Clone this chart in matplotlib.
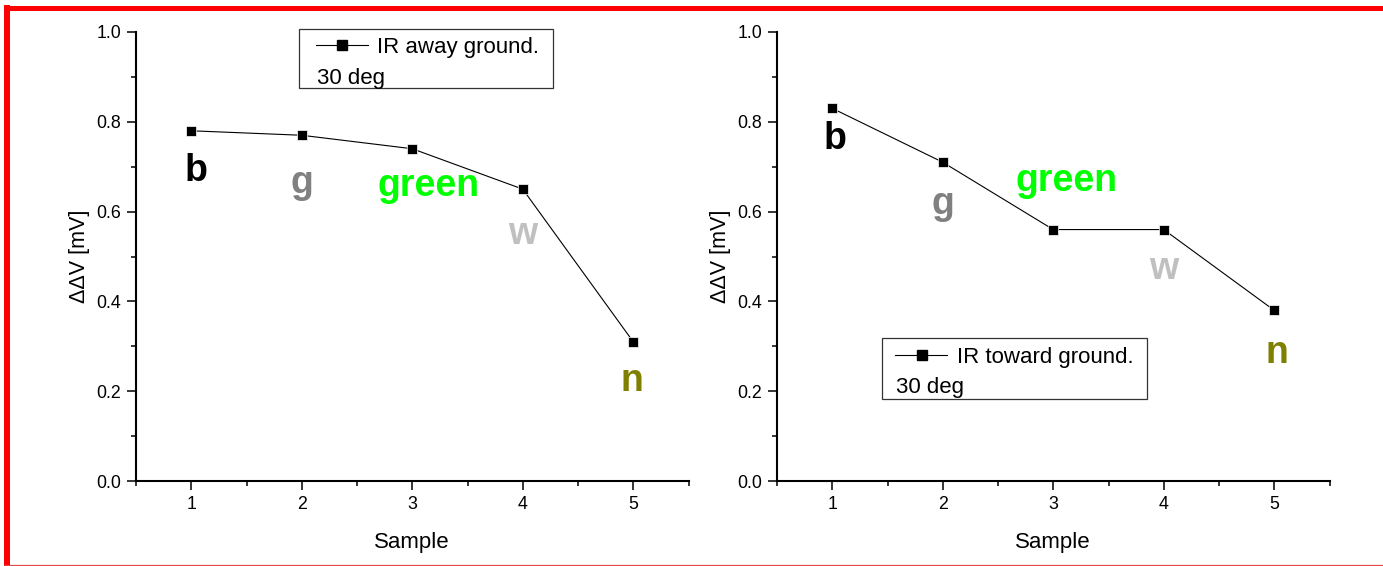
import matplotlib
matplotlib.use("Agg")
import matplotlib.pyplot as plt
from matplotlib.lines import Line2D
from matplotlib.patches import Rectangle

plt.rcParams['font.family'] = ['Liberation Sans', 'DejaVu Sans']

# ---- data ----
samples = [1, 2, 3, 4, 5]
away_values = [0.78, 0.77, 0.74, 0.65, 0.31]
toward_values = [0.83, 0.71, 0.56, 0.56, 0.38]
sample_names = ['b', 'g', 'green', 'w', 'n']
name_colors = ['#000000', '#808080', '#00ff00', '#c0c0c0', '#808000']
away_legend = ['IR away ground.', '30 deg']
toward_legend = ['IR toward ground.', '30 deg']
x_label = 'Sample'
y_label = 'ΔΔV [mV]'

# label offsets from each marker, in pixels (right, down)
away_offsets = [(5, 50), (0, 58), (16, 47), (0, 55), (-1, 49)]
toward_offsets = [(3, 41), (0, 52), (13, -39), (0, 49), (3, 53)]

W, H = 1383, 566
DPI = 100
fig = plt.figure(figsize=(W / DPI, H / DPI), dpi=DPI)
PT = 72 / DPI  # points per pixel


def make_axes(left_px):
    x0 = left_px / W
    width = 552.5 / W
    y0 = 1 - 481 / H
    height = 449 / H
    return fig.add_axes([x0, y0, width, height])


def style_axes(ax):
    for side in ('top', 'right'):
        ax.spines[side].set_visible(False)
    for side in ('left', 'bottom'):
        ax.spines[side].set_linewidth(1.5)
    ax.set_xlim(0.5, 5.5)
    ax.set_ylim(0.0, 1.0)
    ax.set_xticks(samples)
    ax.set_xticks([0.5, 1.5, 2.5, 3.5, 4.5, 5.5], minor=True)
    ax.set_yticks([0.0, 0.2, 0.4, 0.6, 0.8, 1.0])
    ax.set_yticks([0.1, 0.3, 0.5, 0.7, 0.9], minor=True)
    ax.yaxis.set_major_formatter(matplotlib.ticker.FormatStrFormatter('%.1f'))
    ax.tick_params(which='major', direction='out', length=6.5, width=1.1,
                   labelsize=12.8, pad=4)
    ax.tick_params(which='minor', direction='out', length=3.6, width=1.1)
    ax.set_xlabel(x_label, fontsize=16, labelpad=14)
    ax.set_ylabel(y_label, fontsize=15.5, labelpad=5)


def draw_series(ax, values, offsets):
    ax.plot(samples, values, color='black', linewidth=0.8, marker='s',
            markersize=7.2, markerfacecolor='black', markeredgecolor='white',
            markeredgewidth=0.5, clip_on=False, zorder=3)
    for x, y, name, color, (dx, dy) in zip(samples, values, sample_names,
                                          name_colors, offsets):
        ax.annotate(name, xy=(x, y), xytext=(dx * PT, -dy * PT),
                    textcoords='offset points', ha='center', va='baseline',
                    fontsize=27, fontweight='bold', color=color)


def draw_legend(ax, box, handle, texts):
    # box: (x0, y0, x1, y1) axes fraction; handle: (xa, xb, xm, y)
    x0, y0, x1, y1 = box
    ax.add_patch(Rectangle((x0, y0), x1 - x0, y1 - y0, transform=ax.transAxes,
                           facecolor='white', edgecolor='#333333',
                           linewidth=0.9, clip_on=False, zorder=4))
    xa, xb, xm, yh = handle
    ax.add_line(Line2D([xa, xb], [yh, yh], transform=ax.transAxes,
                       color='black', linewidth=0.8, clip_on=False, zorder=5))
    ax.add_line(Line2D([xm], [yh], transform=ax.transAxes, marker='s',
                       markersize=7, color='black', linestyle='none',
                       clip_on=False, zorder=5))
    (t1x, t1y), (t2x, t2y) = texts[0][1], texts[1][1]
    ax.text(t1x, t1y, texts[0][0], transform=ax.transAxes, fontsize=16,
            ha='left', va='baseline', zorder=6)
    ax.text(t2x, t2y, texts[1][0], transform=ax.transAxes, fontsize=16,
            ha='left', va='baseline', zorder=6)


ax1 = make_axes(136)
style_axes(ax1)
draw_series(ax1, away_values, away_offsets)
draw_legend(ax1, (0.295, 0.875, 0.7548, 1.0067),
            (0.3258, 0.4199, 0.3729, 0.971),
            [(away_legend[0], (0.4362, 0.9532)),
             (away_legend[1], (0.3276, 0.8842))])

ax2 = make_axes(777)
style_axes(ax2)
draw_series(ax2, toward_values, toward_offsets)
draw_legend(ax2, (0.190, 0.1826, 0.6697, 0.3185),
            (0.2136, 0.3077, 0.2624, 0.2806),
            [(toward_legend[0], (0.3258, 0.2628)),
             (toward_legend[1], (0.2154, 0.196))])

# red outer frame
def fig_line(xs, ys, **kw):
    fig.add_artist(Line2D([x / W for x in xs], [1 - y / H for y in ys],
                          transform=fig.transFigure, **kw))

fig_line([4, W], [7.5, 7.5], color='#ff0000', linewidth=5 * PT,
         solid_capstyle='butt')
fig_line([7, 7], [5, H], color='#ff0000', linewidth=6 * PT,
         solid_capstyle='butt')
fig_line([4, W], [565, 565], color='#e04848', linewidth=1.2 * PT,
         solid_capstyle='butt')

fig.savefig('out.png', dpi=DPI)
